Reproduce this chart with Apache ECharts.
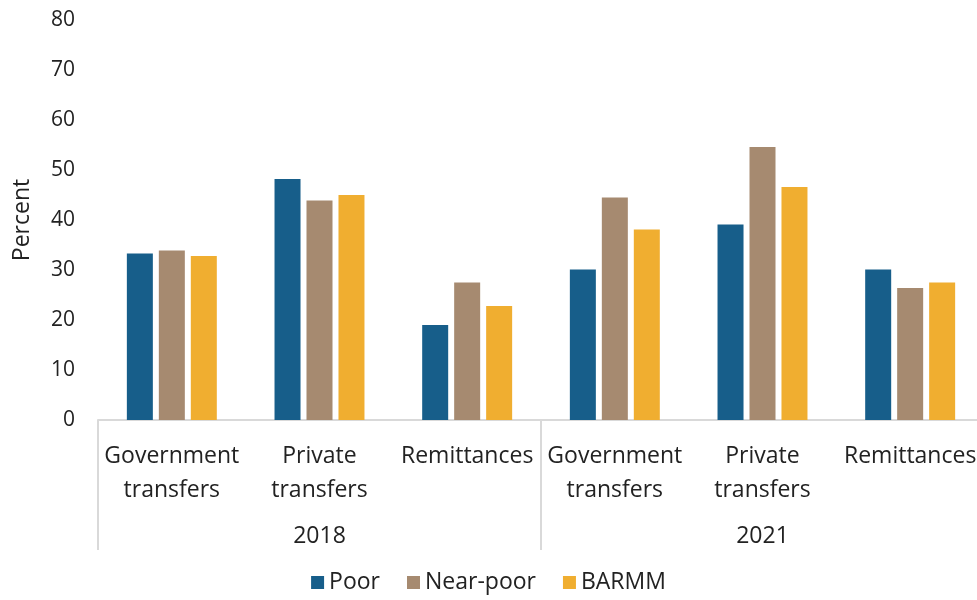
<!DOCTYPE html>
<html>
<head>
<meta charset="utf-8">
<script src="https://cdn.jsdelivr.net/npm/echarts@6/dist/echarts.min.js"></script>
<style>html,body{margin:0;padding:0;background:#fff}#c{width:977px;height:600px}</style>
</head>
<body>
<div id="c"></div>
<script>
const categories = ['Government\ntransfers', 'Private\ntransfers', 'Remittances', 'Government\ntransfers', 'Private\ntransfers', 'Remittances'];
const years = ['2018', '2021'];
const poor = [33.3, 48.2, 19.0, 30.1, 39.1, 30.1];
const nearPoor = [33.9, 43.9, 27.5, 44.5, 54.6, 26.4];
const barmm = [32.8, 45.0, 22.8, 38.1, 46.6, 27.5];
const yTicks = [0, 10, 20, 30, 40, 50, 60, 70, 80];

const font = '"Open Sans", sans-serif';
const chart = echarts.init(document.getElementById('c'));
chart.setOption({
  animation: false,
  textStyle: { fontFamily: font },
  grid: { left: 98, top: 20, width: 886, bottom: 180, containLabel: false, outerBoundsMode: 'none' },
  legend: {
    bottom: 1, left: 'center', icon: 'rect', itemWidth: 13, itemHeight: 13, itemGap: 27,
    textStyle: { fontSize: 23, color: '#222', fontFamily: font },
    data: ['Poor', 'Near-poor', 'BARMM']
  },
  xAxis: [
    {
      type: 'category', data: categories, position: 'bottom',
      axisLine: { show: true, lineStyle: { color: '#d9d9d9', width: 2 } },
      axisTick: { show: false },
      axisLabel: { interval: 0, margin: 19, fontSize: 23, lineHeight: 34, color: '#222', fontFamily: font }
    },
    {
      type: 'category', data: years, position: 'bottom',
      axisLine: { show: false },
      axisTick: { show: true, length: 130, interval: 0, lineStyle: { color: '#d9d9d9', width: 2 } },
      axisLabel: { interval: 0, margin: 105, fontSize: 23, color: '#222', fontFamily: font }
    }
  ],
  yAxis: {
    type: 'value', min: yTicks[0], max: yTicks[yTicks.length - 1], interval: 10,
    name: 'Percent', nameLocation: 'middle', nameGap: 64, nameRotate: 90,
    nameTextStyle: { fontSize: 23, color: '#222', fontFamily: font },
    axisLine: { show: false }, axisTick: { show: false }, splitLine: { show: false },
    axisLabel: { margin: 23, fontSize: 21, color: '#222', fontFamily: font }
  },
  series: [
    { name: 'Poor', type: 'bar', data: poor, barWidth: 26, barGap: '23%', itemStyle: { color: '#175E8A' } },
    { name: 'Near-poor', type: 'bar', data: nearPoor, barWidth: 26, barGap: '23%', itemStyle: { color: '#A68A70' } },
    { name: 'BARMM', type: 'bar', data: barmm, barWidth: 26, barGap: '23%', itemStyle: { color: '#F0AE30' } }
  ]
});
</script>
</body>
</html>
